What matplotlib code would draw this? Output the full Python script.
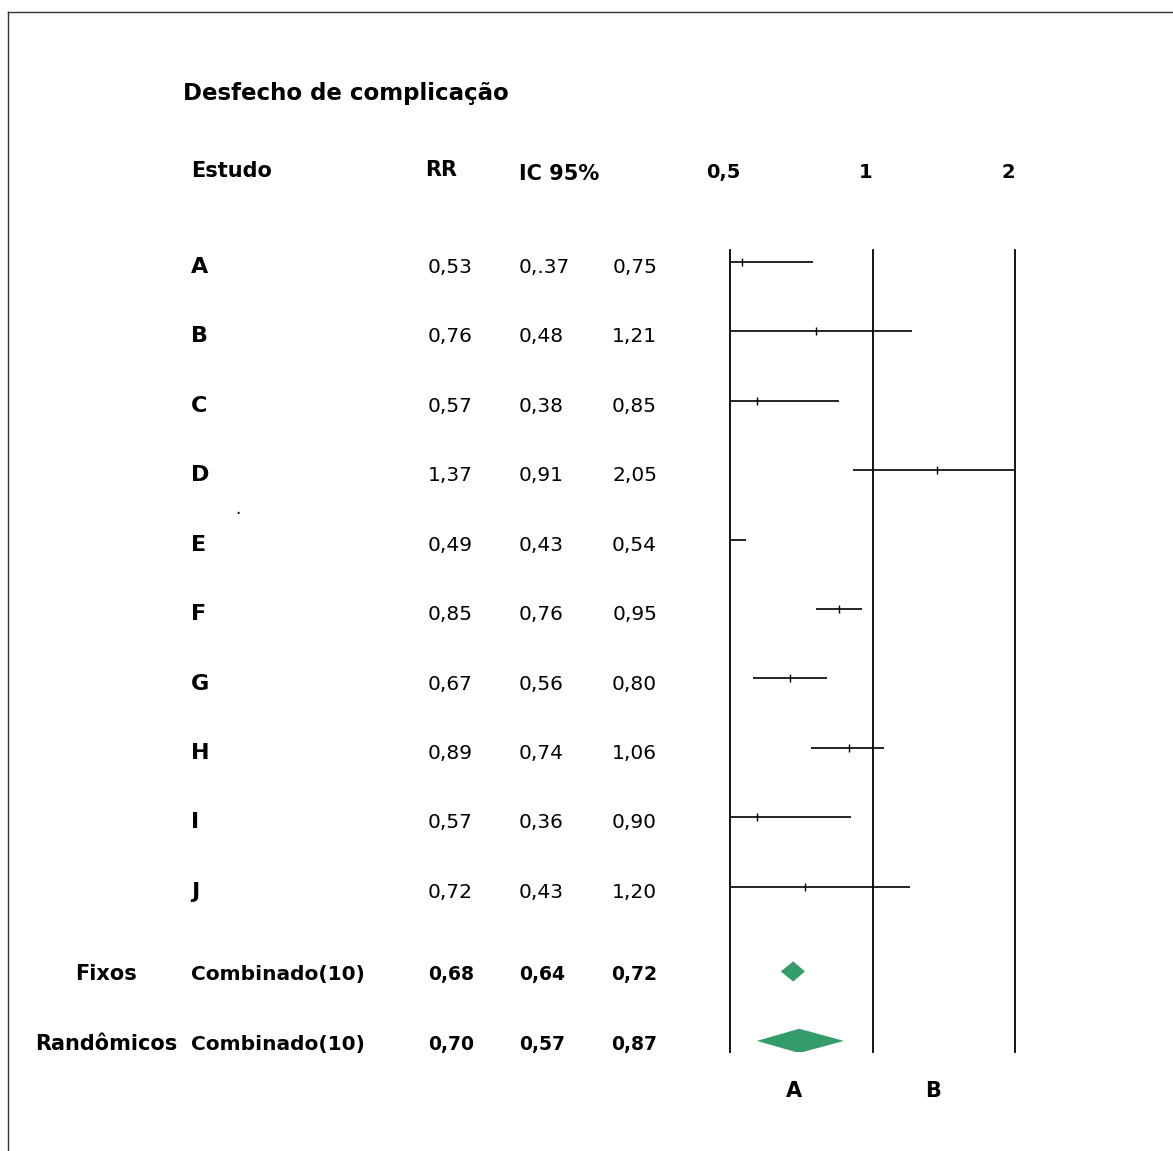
import numpy as np
import matplotlib
matplotlib.use('Agg')
from matplotlib import pyplot as plt
from matplotlib import transforms
from matplotlib.lines import Line2D

plt.rcParams['font.family'] = 'DejaVu Sans'

# data
studies = ['A', 'B', 'C', 'D', 'E', 'F', 'G', 'H', 'I', 'J']
rr = [0.53, 0.76, 0.57, 1.37, 0.49, 0.85, 0.67, 0.89, 0.57, 0.72]
ci_low = [0.37, 0.48, 0.38, 0.91, 0.43, 0.76, 0.56, 0.74, 0.36, 0.43]
ci_high = [0.75, 1.21, 0.85, 2.05, 0.54, 0.95, 0.80, 1.06, 0.90, 1.20]

pooled_models = ['Fixos', 'Randômicos']
pooled_label = 'Combinado(10)'
pooled_rr = [0.68, 0.70]
pooled_low = [0.64, 0.57]
pooled_high = [0.72, 0.87]

ref_values = [0.5, 1, 2]
ref_labels = ['0,5', '1', '2']
side_labels = ['A', 'B']


def fmt(v):
    return ('%.2f' % v).replace('.', ',')


rr_txt = [fmt(v) for v in rr]
low_txt = [fmt(v) for v in ci_low]
high_txt = [fmt(v) for v in ci_high]
low_txt[0] = '0,.37'  # typo as printed in the original table

W, H = 1173, 1151
fig = plt.figure(figsize=(W / 100, H / 100), dpi=100)


def fx(px):
    return px / W


def fy(py):
    return 1 - py / H


# frame (left and top edges only)
fig.add_artist(Line2D([fx(8), fx(8)], [fy(12), 0], transform=fig.transFigure, color='#333333', lw=1))
fig.add_artist(Line2D([fx(8), 1], [fy(12), fy(12)], transform=fig.transFigure, color='#333333', lw=1))

ax = fig.add_axes([fx(730), fy(1052), fx(1015) - fx(730), (1052 - 250) / H])
ax.set_xscale('log', base=2)
ax.set_xlim(0.5, 2)
rows = np.arange(len(studies))
pooled_rows = [len(studies) + 0.22, len(studies) + 1.22]
ax.set_ylim(11.38, -0.17)
ax.axis('off')

for v in ref_values:
    ax.axvline(v, color='black', lw=1.3, clip_on=False)

ax.hlines(rows, ci_low, ci_high, color='black', lw=1.2)
ax.plot(rr, rows, ls='none', marker='|', ms=6, mew=1.0, color='black')

for r, est, lo, hi, h in zip(pooled_rows, pooled_rr, pooled_low, pooled_high, [0.145, 0.175]):
    ax.fill([lo, est, hi, est], [r, r - h, r, r + h], color='#349c68', lw=0)

# table text
row_tr = transforms.blended_transform_factory(fig.transFigure, ax.transData)
dy = 0.16
for r, s, a, b, c in zip(rows, studies, rr_txt, low_txt, high_txt):
    y = r + dy
    fig.text(fx(191), y, s, transform=row_tr, fontsize=16, fontweight='bold', va='baseline')
    fig.text(fx(428), y, a, transform=row_tr, fontsize=14.5, va='baseline')
    fig.text(fx(519), y, b, transform=row_tr, fontsize=14.5, va='baseline')
    fig.text(fx(657), y, c, transform=row_tr, fontsize=14.5, va='baseline', ha='right')

for r, m, est, lo, hi in zip(pooled_rows, pooled_models, pooled_rr, pooled_low, pooled_high):
    y = r + 0.13
    fig.text(fx(106), y, m, transform=row_tr, fontsize=15, fontweight='bold', va='baseline', ha='center')
    fig.text(fx(191), y, pooled_label, transform=row_tr, fontsize=14.5, fontweight='bold', va='baseline')
    fig.text(fx(428), y, fmt(est), transform=row_tr, fontsize=13.5, fontweight='bold', va='baseline')
    fig.text(fx(519), y, fmt(lo), transform=row_tr, fontsize=13.5, fontweight='bold', va='baseline')
    fig.text(fx(657), y, fmt(hi), transform=row_tr, fontsize=13.5, fontweight='bold', va='baseline', ha='right')

# headers
fig.text(fx(183), fy(100), 'Desfecho de complicação', fontsize=16.5, fontweight='bold', va='baseline')
fig.text(fx(191), fy(177), 'Estudo', fontsize=15, fontweight='bold', va='baseline')
fig.text(fx(425), fy(176), 'RR', fontsize=15, fontweight='bold', va='baseline')
fig.text(fx(519), fy(180), 'IC 95%', fontsize=15, fontweight='bold', va='baseline')

ref_tr = transforms.blended_transform_factory(ax.transData, fig.transFigure) + \
    transforms.ScaledTranslation(-7 / 100, 0, fig.dpi_scale_trans)
for v, lab in zip(ref_values, ref_labels):
    ax.text(v, fy(178), lab, transform=ref_tr, fontsize=14, fontweight='bold', va='baseline', ha='center')

for px, lab in zip([794, 933], side_labels):
    fig.text(fx(px), fy(1097), lab, fontsize=15, fontweight='bold', va='baseline', ha='center')

# stray dot in the original
fig.text(fx(238), fy(514), '.', fontsize=12, ha='center', va='baseline')

fig.savefig('out.png', dpi=100)
